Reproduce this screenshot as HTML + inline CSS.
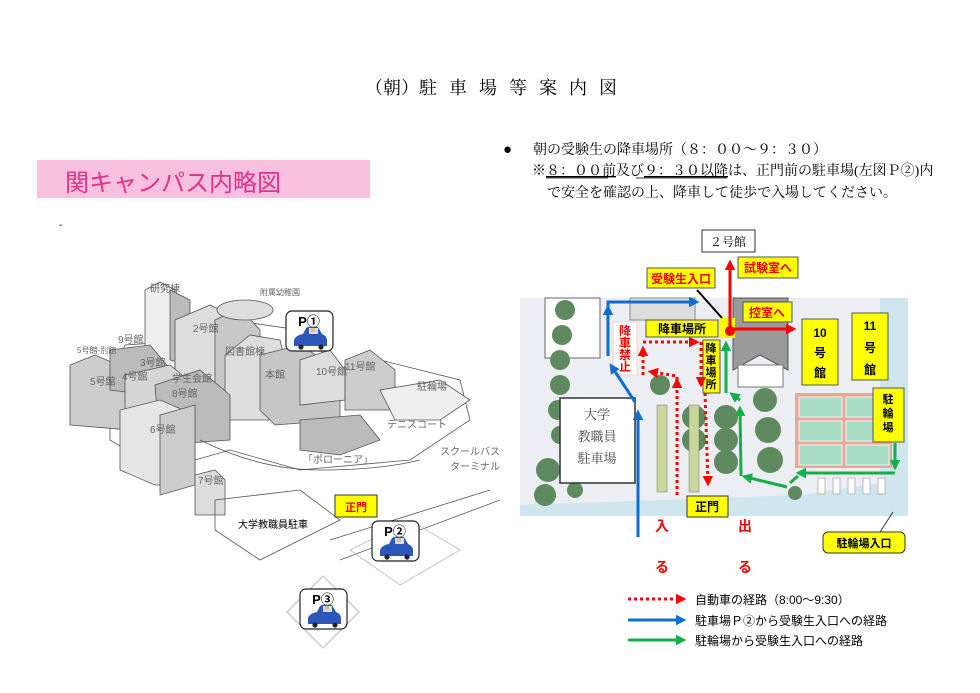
<!DOCTYPE html>
<html><head><meta charset="utf-8"><style>
body{margin:0;background:#fff;}
svg{display:block;}
.s{font-family:"Liberation Serif","Noto Serif CJK SC",serif;}
.g{font-family:"Liberation Sans","Noto Sans CJK JP",sans-serif;}
</style></head><body>
<svg width="980" height="693" viewBox="0 0 980 693" xmlns="http://www.w3.org/2000/svg">
<defs>
<marker id="ar" markerWidth="3.5" markerHeight="3.5" refX="2" refY="1.75" orient="auto" markerUnits="strokeWidth"><path d="M0,0L3.5,1.75L0,3.5z" fill="#f00"/></marker>
<marker id="ab" markerWidth="3.5" markerHeight="3.5" refX="2" refY="1.75" orient="auto" markerUnits="strokeWidth"><path d="M0,0L3.5,1.75L0,3.5z" fill="#0a6fd0"/></marker>
<marker id="ag" markerWidth="3.5" markerHeight="3.5" refX="2" refY="1.75" orient="auto" markerUnits="strokeWidth"><path d="M0,0L3.5,1.75L0,3.5z" fill="#12b04a"/></marker>
<g id="car">
<rect x="0" y="0" width="47" height="40" rx="6" fill="#fff" stroke="#222" stroke-width="1.2"/>
<path d="M8,35 L8,29 Q10,24 17,23 L20,17 Q23,15 32,16 L36,23 Q41,25 41,29 L41,35z" fill="#2c56b8"/>
<rect x="23" y="17" width="9" height="6" fill="#cfe3f5"/>
<circle cx="27" cy="19" r="2.5" fill="#e9b98a"/>
<circle cx="15" cy="36" r="2.6" fill="#222"/><circle cx="35" cy="36" r="2.6" fill="#222"/>
</g>
</defs>

<text x="497" y="94" text-anchor="middle" class="s" font-size="18"><tspan>（朝）</tspan><tspan letter-spacing="12">駐車場等案内図</tspan></text>

<rect x="37" y="160" width="333" height="38" fill="#f8c0df"/>
<text x="65" y="191" class="g" font-size="24" fill="#e4308a">関キャンパス内略図</text>
<text x="59" y="228" class="g" font-size="10">-</text>

<text x="503" y="154" class="s" font-size="15">●</text>
<text x="533" y="154" class="s" font-size="14">朝の受験生の降車場所（８：００～９：３０）</text>
<text x="532" y="175" class="s" font-size="14">※<tspan text-decoration="underline">８：００前</tspan>及び<tspan text-decoration="underline">９：３０以降</tspan>は、正門前の駐車場(左図Ｐ②)内</text>
<line x1="546" y1="178" x2="608" y2="178" stroke="#000" stroke-width="0.8"/>
<line x1="636" y1="178" x2="727" y2="178" stroke="#000" stroke-width="0.8"/>
<text x="547" y="197" class="s" font-size="14">で安全を確認の上、降車して徒歩で入場してください。</text>

<!-- left campus map -->
<g stroke="#555" stroke-width="0.8" fill="#fff">
<path d="M110,380 L125,345 L200,340 L230,320 L300,330 L340,370 L380,360 L460,380 L470,420 L410,460 L300,470 L230,450 L160,470 L110,440z" fill="#fff"/>
<polygon points="145,290 160,282 175,290 175,370 145,370" fill="#eee"/>
<polygon points="170,290 190,300 190,365 170,360" fill="#bbb"/>
<polygon points="175,320 210,305 240,320 240,380 175,385" fill="#ddd"/>
<polygon points="215,320 240,308 260,330 260,400 215,400" fill="#c8c8c8"/>
<polygon points="225,355 250,335 280,340 290,380 290,420 225,420" fill="#ddd"/>
<polygon points="70,365 95,355 130,370 130,430 70,425" fill="#ccc"/>
<polygon points="110,350 150,345 175,375 150,395 110,390" fill="#bbb"/>
<polygon points="125,375 170,365 200,390 200,420 125,430" fill="#d5d5d5"/>
<polygon points="155,385 200,370 230,395 230,440 160,445" fill="#bbb"/>
<polygon points="120,410 160,400 195,415 195,485 155,485 120,470" fill="#e6e6e6"/>
<polygon points="160,415 195,405 195,485 160,495" fill="#ccc"/>
<polygon points="260,355 300,345 340,370 340,420 275,425 260,410" fill="#c6c6c6"/>
<polygon points="300,360 330,350 345,370 345,400 300,405" fill="#ddd"/>
<polygon points="345,360 370,350 395,370 395,410 345,410" fill="#ccc"/>
<polygon points="380,390 440,380 470,400 440,420 395,420" fill="#eee"/>
<polygon points="300,420 360,415 380,440 340,455 300,450" fill="#bbb"/>
<polygon points="195,475 215,470 225,480 225,515 195,515" fill="#ddd"/>
<path d="M200,440 Q260,470 320,470 Q380,470 420,460" fill="none"/>
<path d="M215,500 L300,490 L340,520 L260,560 L215,530z" fill="none"/>
<path d="M330,540 L490,490" fill="none"/><path d="M340,560 L500,500" fill="none"/>
<polygon points="323,576 359,612 323,648 287,612" fill="none" stroke="#ccc" stroke-width="1.5"/>
<polygon points="350,550 410,520 460,550 400,585" fill="none" stroke="#bbb"/>
<ellipse cx="245" cy="310" rx="28" ry="10" fill="#ddd"/>
</g>
<g class="g" font-size="10" fill="#666">
<text x="150" y="292">研究棟</text><text x="193" y="332">2号館</text><text x="118" y="343">9号館</text>
<text x="77" y="353" font-size="8">5号館-別館</text><text x="90" y="385">5号館</text><text x="122" y="380">4号館</text>
<text x="140" y="366">3号館</text><text x="172" y="382">学生会館</text><text x="172" y="397">8号館</text>
<text x="225" y="355">図書館棟</text><text x="265" y="378">本館</text><text x="316" y="375">10号館</text>
<text x="345" y="370">11号館</text><text x="417" y="390">駐輪場</text><text x="387" y="428">テニスコート</text>
<text x="150" y="433">6号館</text><text x="198" y="484">7号館</text><text x="303" y="463">「ポローニア」</text>
<text x="440" y="455">スクールバス</text><text x="450" y="470">ターミナル</text>
<text x="260" y="295" font-size="8">附属幼稚園</text>
</g>
<text x="238" y="528" class="g" font-size="10" fill="#000">大学教職員駐車</text>
<rect x="335" y="495" width="42" height="22" fill="#ff0" stroke="#333"/>
<text x="356" y="511" text-anchor="middle" class="g" font-size="11" font-weight="bold" fill="#e00">正門</text>
<use href="#car" x="286" y="311"/><text x="309" y="326" text-anchor="middle" class="g" font-size="13" font-weight="bold">P①</text>
<use href="#car" x="372" y="521"/><text x="395" y="536" text-anchor="middle" class="g" font-size="13" font-weight="bold">P②</text>
<use href="#car" x="300" y="589"/><text x="323" y="604" text-anchor="middle" class="g" font-size="13" font-weight="bold">P③</text>

<!-- right map -->
<rect x="520" y="298" width="388" height="218" fill="#eceef3"/>
<rect x="545" y="298" width="55" height="60" fill="#fff" stroke="#666"/>
<rect x="880" y="298" width="28" height="218" fill="#cfe6ee"/>
<path d="M520,505 L660,500 L800,495 L900,480 L908,516 L520,516z" fill="#cfe6ee"/>
<g fill="#5f8a5f">
<circle cx="565" cy="310" r="10"/><circle cx="562" cy="335" r="10"/><circle cx="560" cy="360" r="10"/><circle cx="560" cy="385" r="10"/><circle cx="558" cy="410" r="10"/><circle cx="560" cy="435" r="9"/><circle cx="548" cy="470" r="12"/><circle cx="545" cy="495" r="11"/><circle cx="605" cy="415" r="9"/><circle cx="660" cy="385" r="10"/>
<circle cx="694" cy="417" r="12"/><circle cx="694" cy="440" r="12"/><circle cx="726" cy="417" r="12"/><circle cx="726" cy="440" r="12"/><circle cx="726" cy="462" r="12"/>
<circle cx="765" cy="400" r="12"/><circle cx="768" cy="430" r="13"/><circle cx="770" cy="460" r="13"/><circle cx="575" cy="490" r="8"/><circle cx="795" cy="493" r="7"/>
</g>
<rect x="657" y="405" width="10" height="87" fill="#c9d69a" stroke="#777" stroke-width="0.5"/>
<rect x="689" y="405" width="10" height="87" fill="#c9d69a" stroke="#777" stroke-width="0.5"/>
<polygon points="733,298 788,298 788,370 760,355 733,370" fill="#9a9a9a" stroke="#555"/>
<rect x="738" y="365" width="45" height="22" fill="#fff" stroke="#777"/>
<rect x="630" y="298" width="65" height="22" fill="#ddd" stroke="#888"/>
<rect x="795" y="393" width="97" height="75" fill="#e6a99a"/>
<g fill="#a8dcc4" stroke="#fff" stroke-width="0.8">
<rect x="799" y="397" width="43" height="20"/><rect x="846" y="397" width="43" height="20"/>
<rect x="799" y="421" width="43" height="20"/><rect x="846" y="421" width="43" height="20"/>
<rect x="799" y="445" width="43" height="20"/><rect x="846" y="445" width="43" height="20"/>
</g>
<g fill="#fff" stroke="#bbb"><rect x="818" y="478" width="7" height="16"/><rect x="833" y="478" width="7" height="16"/><rect x="848" y="478" width="7" height="16"/><rect x="863" y="478" width="7" height="16"/><rect x="878" y="478" width="7" height="16"/></g>

<rect x="560" y="398" width="75" height="85" fill="#fff" stroke="#333" stroke-width="1.5"/>
<g class="s" font-size="13" text-anchor="middle" fill="#444"><text x="597" y="419">大学</text><text x="597" y="441">教職員</text><text x="597" y="463">駐車場</text></g>

<rect x="702" y="230" width="53" height="22" fill="#fff" stroke="#333"/>
<text x="728" y="246" text-anchor="middle" class="s" font-size="12">２号館</text>

<g class="g" font-weight="bold">
<rect x="647" y="268" width="68" height="20" fill="#ff0" stroke="#555"/><text x="681" y="283" text-anchor="middle" font-size="12" fill="#e00">受験生入口</text>
<rect x="738" y="257" width="60" height="21" fill="#ff0" stroke="#555"/><text x="768" y="272" text-anchor="middle" font-size="12" fill="#e00">試験室へ</text>
<rect x="743" y="302" width="49" height="20" fill="#ff0" stroke="#555"/><text x="767" y="317" text-anchor="middle" font-size="12" fill="#e00">控室へ</text>
<rect x="646" y="320" width="72" height="17" fill="#ff0" stroke="#555"/><text x="682" y="333" text-anchor="middle" font-size="12">降車場所</text>
<rect x="719" y="318" width="16" height="20" fill="#ff0"/>
<rect x="802" y="319" width="36" height="66" fill="#ff0" stroke="#555"/><text x="820" y="337" text-anchor="middle" font-size="12">10</text><text x="820" y="357" text-anchor="middle" font-size="12">号</text><text x="820" y="377" text-anchor="middle" font-size="12">館</text>
<rect x="852" y="313" width="36" height="67" fill="#ff0" stroke="#555"/><text x="870" y="330" text-anchor="middle" font-size="12">11</text><text x="870" y="352" text-anchor="middle" font-size="12">号</text><text x="870" y="374" text-anchor="middle" font-size="12">館</text>
<rect x="873" y="388" width="31" height="54" fill="#ff0" stroke="#555"/><text x="888" y="403" text-anchor="middle" font-size="11">駐</text><text x="888" y="417" text-anchor="middle" font-size="11">輪</text><text x="888" y="431" text-anchor="middle" font-size="11">場</text>
<rect x="613" y="322" width="24" height="53" fill="#fff" stroke="#fcc"/><g font-size="12" fill="#e00" text-anchor="middle"><text x="625" y="335">降</text><text x="625" y="347">車</text><text x="625" y="359">禁</text><text x="625" y="371">止</text></g>
<rect x="703" y="340" width="17" height="53" fill="#ff0" stroke="#555"/><g font-size="11" text-anchor="middle"><text x="711" y="352">降</text><text x="711" y="364">車</text><text x="711" y="376">場</text><text x="711" y="388">所</text></g>
<rect x="687" y="496" width="41" height="21" fill="#ff0" stroke="#333"/><text x="707" y="511" text-anchor="middle" font-size="12">正門</text>
<path d="M893,512 L880,532" stroke="#333" fill="none"/>
<rect x="823" y="532" width="82" height="21" rx="5" fill="#ff0" stroke="#333"/><text x="864" y="547" text-anchor="middle" font-size="11">駐輪場入口</text>
<text x="662" y="531" text-anchor="middle" font-size="14" fill="#e00">入</text>
<text x="745" y="531" text-anchor="middle" font-size="14" fill="#e00">出</text>
<text x="662" y="572" text-anchor="middle" font-size="14" fill="#e00">る</text>
<text x="745" y="572" text-anchor="middle" font-size="14" fill="#e00">る</text>
</g>
<line x1="697" y1="290" x2="722" y2="318" stroke="#000" stroke-width="2"/>

<!-- red solid -->
<line x1="730" y1="331" x2="730" y2="264" stroke="#f00" stroke-width="3" marker-end="url(#ar)"/>
<line x1="730" y1="329" x2="792" y2="329" stroke="#f00" stroke-width="3" marker-end="url(#ar)"/>
<circle cx="730" cy="331" r="5" fill="#e00"/>
<!-- red dotted -->
<g stroke="#f00" stroke-width="3" stroke-dasharray="3,3" fill="none">
<path d="M677,495 L677,382" marker-end="url(#ar)"/>
<path d="M677,380 L677,376 L652,372" marker-end="url(#ar)"/>
<path d="M643,375 L643,350" marker-end="url(#ar)"/>
<path d="M643,342 L695,342" marker-end="url(#ar)"/>
<path d="M701,342 L701,383" marker-end="url(#ar)"/>
<path d="M705,393 L708,482" marker-end="url(#ar)"/>
</g>
<!-- blue -->
<g stroke="#0a6fd0" stroke-width="3" fill="none">
<path d="M638,537 L638,414" marker-end="url(#ab)"/>
<path d="M635,402 L612,367" marker-end="url(#ab)"/>
<path d="M608,356 L608,302 L695,302" marker-end="url(#ab)"/>
<line x1="608" y1="356" x2="608" y2="309" marker-end="url(#ab)"/>
</g>
<!-- green -->
<g stroke="#12b04a" stroke-width="3" fill="none">
<path d="M787,487 L746,477" marker-end="url(#ag)"/>
<path d="M741,476 L740,410" marker-end="url(#ag)"/>
<path d="M740,400 L733,395" marker-end="url(#ag)"/>
<path d="M726,393 L726,345" marker-end="url(#ag)"/>
<path d="M895,443 L895,466" marker-end="url(#ag)"/>
<path d="M895,473 L800,473" marker-end="url(#ag)"/>
<path d="M790,483 L798,476"/>
</g>

<!-- legend -->
<line x1="628" y1="599" x2="682" y2="599" stroke="#f00" stroke-width="3" stroke-dasharray="3,3" marker-end="url(#ar)"/>
<line x1="628" y1="620" x2="682" y2="620" stroke="#0a6fd0" stroke-width="3" marker-end="url(#ab)"/>
<line x1="628" y1="640" x2="682" y2="640" stroke="#12b04a" stroke-width="3" marker-end="url(#ag)"/>
<g class="g" font-size="12"><text x="695" y="604">自動車の経路（8:00～9:30）</text><text x="695" y="625">駐車場Ｐ②から受験生入口への経路</text><text x="695" y="645">駐輪場から受験生入口への経路</text></g>
</svg>
</body></html>
